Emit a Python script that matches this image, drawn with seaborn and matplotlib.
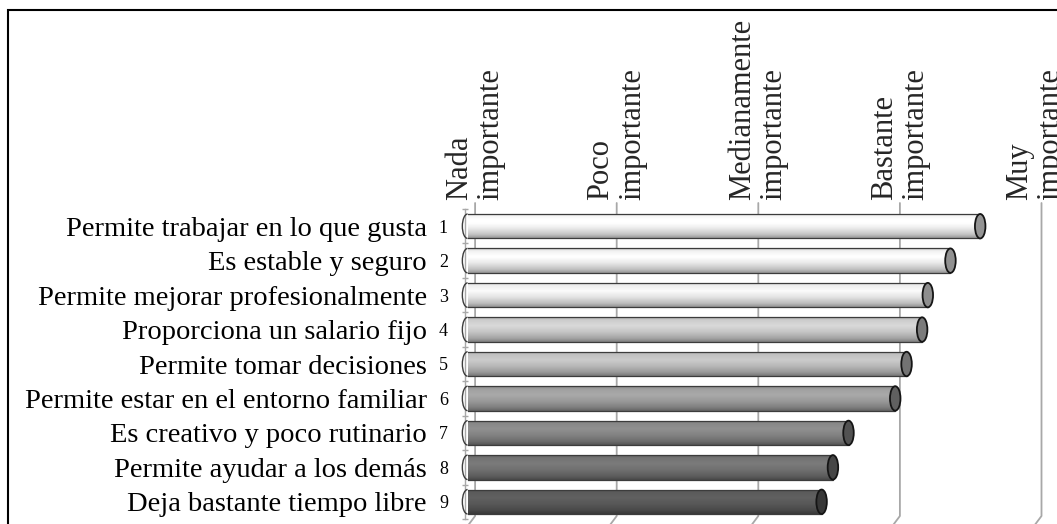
import numpy as np
import pandas as pd
import matplotlib
matplotlib.use("Agg")
import matplotlib.pyplot as plt
import matplotlib.colors as mcolors
import seaborn as sns
from matplotlib.patches import Ellipse, Arc, Rectangle
from matplotlib.transforms import blended_transform_factory, ScaledTranslation

# ---------------- data ----------------
categories = [
    "Permite trabajar en lo que gusta",
    "Es estable y seguro",
    "Permite mejorar profesionalmente",
    "Proporciona un salario fijo",
    "Permite tomar decisiones",
    "Permite estar en el entorno familiar",
    "Es creativo y poco rutinario",
    "Permite ayudar a los demás",
    "Deja bastante tiempo libre",
]
ranks = ["1", "2", "3", "4", "5", "6", "7", "8", "9"]
values = [4.62, 4.41, 4.25, 4.21, 4.10, 4.02, 3.69, 3.58, 3.50]
scale_ticks = [1, 2, 3, 4, 5]
scale_labels = [
    "Nada\nimportante",
    "Poco\nimportante",
    "Medianamente\nimportante",
    "Bastante\nimportante",
    "Muy\nimportante",
]
bar_colors = ["#f6f6f6", "#f2f2f2", "#ededed", "#cdcdcd", "#c0c0c0",
              "#a0a0a0", "#888888", "#747474", "#5b5b5b"]

# ---------------- style ----------------
sns.set_theme(style="white")
plt.rcParams["font.family"] = ["Liberation Serif", "DejaVu Serif"]

W, H = 1057, 524
fig = plt.figure(figsize=(W / 100, H / 100), dpi=100)
fig.patch.set_facecolor("white")

ax_left, ax_right, ax_top, ax_bottom = 467.6, 1057.0, 209.0, 519.0
ax = fig.add_axes([ax_left / W, 1 - ax_bottom / H,
                   (ax_right - ax_left) / W, (ax_bottom - ax_top) / H])
ax.set_facecolor("none")

df = pd.DataFrame({"factor": categories, "valor": values})
sns.barplot(data=df, x="valor", y="factor", hue="factor", palette=bar_colors,
            legend=False, orient="h", width=0.71, saturation=1, ax=ax)

unit = 141.6  # pixels per scale unit
xmin = scale_ticks[0]
xmax = xmin + (ax_right - ax_left) / unit
depth = 7.5 / unit

# ---------------- cylinder shading ----------------
t_ctrl = [0.0, 0.05, 0.12, 0.35, 0.60, 0.85, 1.0]
m_ctrl = [0.72, 0.92, 1.00, 1.06, 0.96, 0.80, 0.62]
tt = np.linspace(0, 1, 80)
mm = np.interp(tt, t_ctrl, m_ctrl)
cap_w = 10.5 / unit

patches = sorted(list(ax.patches), key=lambda p: p.get_y())
for p in patches:
    rgb = np.array(mcolors.to_rgb(p.get_facecolor()))
    grad = np.clip(rgb[None, :] * mm[:, None], 0, 1)[:, None, :]
    x0 = max(p.get_x(), xmin)
    x1 = p.get_x() + p.get_width()
    y0 = p.get_y()
    h = p.get_height()
    y1 = y0 + h
    im = ax.imshow(grad, extent=[x0, x1, y1, y0], origin="upper",
                   aspect="auto", zorder=2, interpolation="bilinear")
    im.set_clip_path(p)
    p.set_facecolor("none")
    p.set_edgecolor("#3c3c3c")
    p.set_linewidth(0.9)
    p.set_zorder(3)
    yc = y0 + h / 2
    ax.add_patch(Ellipse((x1, yc), cap_w, h, facecolor=rgb * 0.6,
                         edgecolor="#151515", linewidth=1.3, zorder=4))
    ax.add_patch(Arc((xmin, yc), cap_w, h, theta1=90, theta2=270,
                     edgecolor="#3c3c3c", linewidth=1.0, zorder=4, clip_on=False))

ax.set_xlim(xmin, xmax)
ax.set_ylim(len(categories) - 0.5, -0.5)

# ---------------- walls / gridlines ----------------
trans = blended_transform_factory(ax.transData, fig.transFigure)
for v in scale_ticks:
    ax.plot([v + depth, v + depth, v], [1 - 203 / H, 1 - 516 / H, 1 - 526 / H],
            transform=trans, color="#a8a8a8", lw=1.3, zorder=1, clip_on=False)

ax.grid(False)
for s in ["top", "right", "bottom"]:
    ax.spines[s].set_visible(False)
ax.spines["left"].set_visible(True)
ax.spines["left"].set_color("#a8a8a8")
ax.spines["left"].set_linewidth(1.0)
ax.spines["left"].set_position(("outward", 1.9))

# y ticks
ax.set_yticks(range(len(categories)))
ax.set_yticklabels(categories, fontsize=20.5, color="black")
ax.set_yticks(np.arange(-0.5, len(categories), 1.0), minor=True)
ax.tick_params(axis="y", which="major", length=0, pad=27.5)
ax.tick_params(axis="y", which="minor", length=4.5, direction="inout",
               color="#a8a8a8", width=1.0, left=True)
ax.set_ylabel("")

# rank numbers next to the labels
ytr = blended_transform_factory(ax.transAxes, ax.transData)
for i, r in enumerate(ranks):
    ax.text((448 - ax_left) / (ax_right - ax_left), i, r, transform=ytr,
            ha="right", va="center_baseline", fontsize=13, color="black")

# x ticks on top
ax.xaxis.tick_top()
ax.set_xticks([v + depth for v in scale_ticks])
ax.set_xticklabels(scale_labels, rotation=90, ha="center", va="bottom",
                   multialignment="left", fontsize=22, linespacing=1.12)
ax.tick_params(axis="x", which="both", length=0, pad=6.5, top=True, bottom=False)
ax.set_xlabel("")
last = ax.get_xticklabels()[-1]
last.set_transform(last.get_transform() + ScaledTranslation(-6 / 100, 0, fig.dpi_scale_trans))

# outer frame
fig.patches.append(Rectangle((7.7 / W, -0.05), 1.2, (1 - 10.3 / H) + 0.05,
                             transform=fig.transFigure, fill=False,
                             edgecolor="black", linewidth=1.5))

fig.savefig("out.png", dpi=100)
